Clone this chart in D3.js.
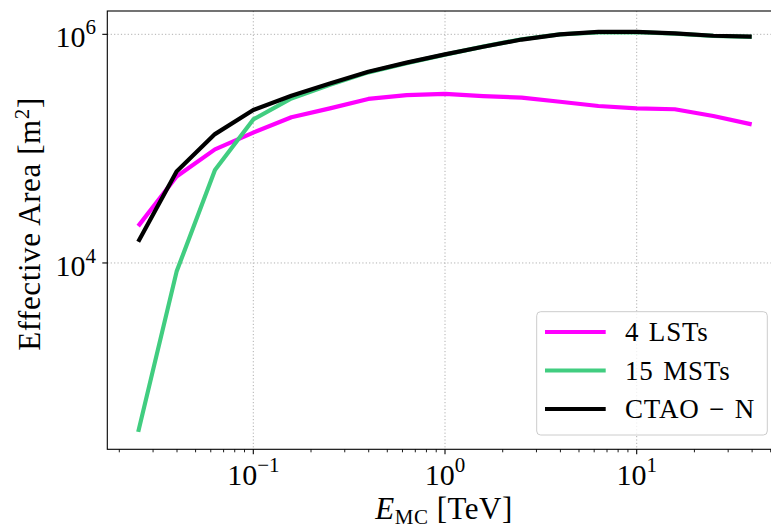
<!DOCTYPE html>
<html>
<head>
<meta charset="utf-8">
<script src="https://cdn.jsdelivr.net/npm/d3@7"></script>
<style>
  html, body { margin: 0; padding: 0; background: #fff; }
  svg { display: block; }
  text { font-family: "Liberation Serif", "DejaVu Serif", serif; fill: #000; }
</style>
</head>
<body>
<svg id="chart" width="771" height="529"></svg>
<script>
// Energy bin centres [TeV]
const energies = [0.0251, 0.0398, 0.0631, 0.1, 0.158, 0.251, 0.398, 0.631, 1, 1.58, 2.51, 3.98, 6.31, 10, 15.8, 25.1, 39.8];
// Effective area [m^2]
const lstArea  = [21000, 57000, 98600, 138000, 188000, 225000, 272000, 294000, 301000, 288000, 279000, 257000, 236000, 225000, 221000, 193000, 163000];
const mstArea  = [333, 8400, 65000, 180000, 275000, 362000, 465000, 560000, 665000, 780000, 905000, 1000000, 1040000, 1045000, 1015000, 968000, 950000];
const ctaoArea = [15300, 63000, 134000, 218000, 290000, 372000, 471000, 565000, 668000, 779000, 900000, 1000000, 1050000, 1050000, 1020000, 972000, 953000];
const seriesNames = ["4 LSTs", "15 MSTs", "CTAO \u2212 N"];
const seriesColors = ["#ff00ff", "#41cd80", "#000000"];
const xMajorTicks = [0.1, 1, 10];
const xMajorExp = ["\u22121", "0", "1"];
const yMajorTicks = [1e4, 1e6];
const yMajorExp = ["4", "6"];

(function () {
const svg = d3.select("#chart");
const pL = 107.3, pR = 782.7, pT = 11, pB = 449.3;

const x = d3.scaleLog().domain([Math.pow(10, -1.7616), Math.pow(10, 1.7616)]).range([pL, pR]);
const y = d3.scaleLog().domain([Math.pow(10, 2.37), Math.pow(10, 6.204)]).range([pB, pT]);

// grid
const grid = svg.append("g");
xMajorTicks.forEach(t => {
  grid.append("line").attr("x1", x(t)).attr("x2", x(t)).attr("y1", pT).attr("y2", pB)
    .attr("stroke", "#b0b0b0").attr("stroke-width", 1).attr("stroke-dasharray", "1.2,2.2");
});
yMajorTicks.forEach(t => {
  grid.append("line").attr("x1", pL).attr("x2", pR).attr("y1", y(t)).attr("y2", y(t))
    .attr("stroke", "#b0b0b0").attr("stroke-width", 1).attr("stroke-dasharray", "1.2,2.2");
});

// lines
const data = [lstArea, mstArea, ctaoArea];
const line = d3.line().x((d, i) => x(energies[i])).y(d => y(d));
const plot = svg.append("g");
data.forEach((vals, k) => {
  plot.append("path").datum(vals).attr("d", line)
    .attr("fill", "none").attr("stroke", seriesColors[k]).attr("stroke-width", 4.2)
    .attr("stroke-linejoin", "round").attr("stroke-linecap", "butt");
});

// spines
svg.append("rect").attr("x", pL).attr("y", pT).attr("width", pR - pL).attr("height", pB - pT)
  .attr("fill", "none").attr("stroke", "#000").attr("stroke-width", 1.1);

// x axis ticks
const xMinor = [];
for (let e = -2; e <= 1; e++) for (let m = 2; m <= 9; m++) {
  const v = m * Math.pow(10, e);
  if (x(v) >= pL && x(v) <= pR) xMinor.push(v);
}
const axG = svg.append("g");
xMinor.forEach(v => {
  axG.append("line").attr("x1", x(v)).attr("x2", x(v)).attr("y1", pB).attr("y2", pB + 3)
    .attr("stroke", "#000").attr("stroke-width", 0.9);
});
xMajorTicks.forEach((t, i) => {
  axG.append("line").attr("x1", x(t)).attr("x2", x(t)).attr("y1", pB).attr("y2", pB + 5)
    .attr("stroke", "#000").attr("stroke-width", 1.1);
  const tx = axG.append("text").attr("x", x(t)).attr("y", 485).attr("text-anchor", "middle")
    .attr("font-size", 30);
  tx.append("tspan").text("10");
  tx.append("tspan").attr("dy", -13).attr("font-size", 21).text(xMajorExp[i]);
});
yMajorTicks.forEach((t, i) => {
  axG.append("line").attr("x1", pL - 5).attr("x2", pL).attr("y1", y(t)).attr("y2", y(t))
    .attr("stroke", "#000").attr("stroke-width", 1.1);
  const tx = axG.append("text").attr("x", 96).attr("y", y(t) + 13).attr("text-anchor", "end")
    .attr("font-size", 30);
  tx.append("tspan").text("10");
  tx.append("tspan").attr("dy", -13).attr("font-size", 21).text(yMajorExp[i]);
});

// axis labels
const xl = svg.append("text").attr("x", 444).attr("y", 519).attr("text-anchor", "middle")
  .attr("font-size", 31).attr("letter-spacing", 0.5);
xl.append("tspan").attr("font-style", "italic").text("E");
xl.append("tspan").attr("dy", 5).attr("font-size", 21).text("MC");
xl.append("tspan").attr("dy", -5).text(" [TeV]");

const yl = svg.append("text").attr("transform", "translate(40,224) rotate(-90)")
  .attr("text-anchor", "middle").attr("font-size", 31).attr("letter-spacing", 0.6);
yl.append("tspan").text("Effective Area [m");
yl.append("tspan").attr("dy", -11).attr("font-size", 21).text("2");
yl.append("tspan").attr("dy", 11).text("]");

// legend
const lg = svg.append("g");
lg.append("rect").attr("x", 536.7).attr("y", 311.7).attr("width", 230.6).attr("height", 123.3)
  .attr("rx", 4).attr("fill", "#fff").attr("fill-opacity", 0.8).attr("stroke", "#cccccc").attr("stroke-width", 1);
const rowY = [332, 370.5, 409];
seriesNames.forEach((name, k) => {
  lg.append("line").attr("x1", 545).attr("x2", 605.7).attr("y1", rowY[k]).attr("y2", rowY[k])
    .attr("stroke", seriesColors[k]).attr("stroke-width", 4.2);
  lg.append("text").attr("x", 625).attr("y", rowY[k] + 9).attr("font-size", 27)
    .attr("letter-spacing", 0.8).attr("word-spacing", 2).text(name);
});
})();
</script>
</body>
</html>
